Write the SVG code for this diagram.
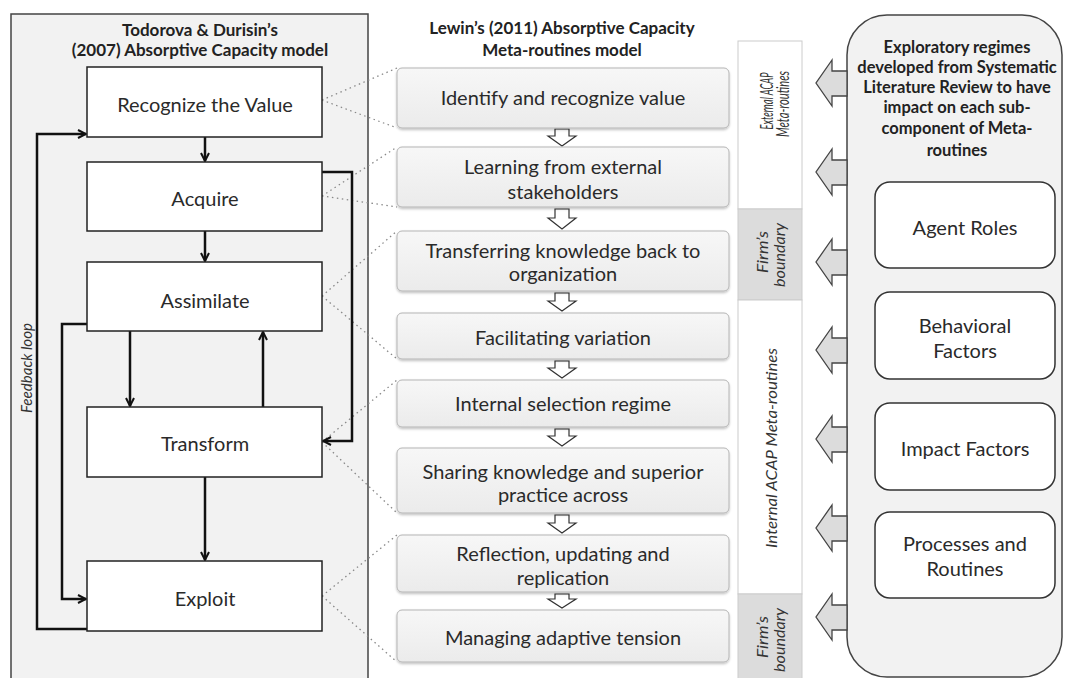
<svg xmlns="http://www.w3.org/2000/svg" width="1066" height="678" viewBox="0 0 1066 678">
  <style>
    .title { font-family: Lato, "Open Sans", "Liberation Sans", sans-serif; font-weight: bold; font-size: 17px; fill: #222; text-anchor: middle; }
    .rtitle { font-family: Lato, "Open Sans", "Liberation Sans", sans-serif; font-weight: bold; font-size: 16.5px; fill: #222; text-anchor: middle; }
    .lbl { font-family: Lato, "Open Sans", "Liberation Sans", sans-serif; font-size: 20px; fill: #2a2a2a; text-anchor: middle; }
    .side { font-family: Lato, "Open Sans", "Liberation Sans", sans-serif; font-style: italic; font-size: 15px; fill: #333; text-anchor: middle; }
    .stage { fill: #fff; stroke: #222; stroke-width: 1.5; }
    .meta { fill: url(#metaFill); stroke: #b5b5b5; stroke-width: 1; filter: url(#shadow); }
    .flow { fill: none; stroke: #111; stroke-width: 2.5; marker-end: url(#head); }
    .dot { fill: none; stroke: #888; stroke-width: 1.3; stroke-dasharray: 1.5 3.5; }
    .hollow { fill: #fff; stroke: #333; stroke-width: 1.2; }
    .push { fill: #dcdcdc; stroke: #444; stroke-width: 1.3; }
    .factor { fill: #fff; stroke: #333; stroke-width: 1.5; }
  </style>
  <defs>
    <linearGradient id="metaFill" x1="0" y1="0" x2="0" y2="1">
      <stop offset="0" stop-color="#f7f7f7"/>
      <stop offset="1" stop-color="#ebebeb"/>
    </linearGradient>
    <filter id="shadow" x="-5%" y="-10%" width="110%" height="130%">
      <feDropShadow dx="0" dy="1.5" stdDeviation="1" flood-color="#000" flood-opacity="0.25"/>
    </filter>
    <marker id="head" viewBox="0 0 10 10" refX="9" refY="5" markerWidth="4" markerHeight="4" orient="auto" markerUnits="strokeWidth">
      <path d="M1,1 L9,5 L1,9" fill="none" stroke="#111" stroke-width="2"/>
    </marker>
  </defs>

  <rect width="1066" height="678" fill="#fff"/>

  <!-- left panel: Todorova & Durisin model -->
  <g id="panel-todorova">
    <rect x="11" y="14" width="357" height="700" fill="#f2f2f2" stroke="#444" stroke-width="1.5"/>
    <text class="title" x="200" y="36">Todorova &amp; Durisin’s</text>
    <text class="title" x="200" y="56">(2007) Absorptive Capacity  model</text>
    <text class="side" transform="translate(32,368) rotate(-90)" textLength="90" lengthAdjust="spacingAndGlyphs">Feedback loop</text>
  </g>

  <!-- right panel: exploratory regimes -->
  <g id="panel-regimes">
    <rect x="847" y="15" width="215" height="662" rx="40" ry="40" fill="#f2f2f2" stroke="#444" stroke-width="1.5"/>
    <text class="rtitle" x="957" y="53">Exploratory regimes</text>
    <text class="rtitle" x="957" y="73">developed from Systematic</text>
    <text class="rtitle" x="957" y="93">Literature Review to have</text>
    <text class="rtitle" x="957" y="113">impact on each sub-</text>
    <text class="rtitle" x="957" y="134">component of Meta-</text>
    <text class="rtitle" x="957" y="156">routines</text>
  </g>

  <!-- boundary strip -->
  <g id="strip">
    <rect x="738" y="41" width="64" height="168" fill="#fff" stroke="#ccc" stroke-width="1"/>
    <rect x="738" y="209" width="64" height="91" fill="#dcdcdc" stroke="#ccc" stroke-width="1"/>
    <rect x="738" y="300" width="64" height="294" fill="#fff" stroke="#ccc" stroke-width="1"/>
    <rect x="738" y="594" width="64" height="100" fill="#dcdcdc" stroke="#ccc" stroke-width="1"/>
    <text class="side" style="font-size:17px" transform="translate(773,101) rotate(-90)" textLength="57" lengthAdjust="spacingAndGlyphs">External ACAP</text>
    <text class="side" style="font-size:17px" transform="translate(789,104) rotate(-90)" textLength="66" lengthAdjust="spacingAndGlyphs">Meta-routines</text>
    <text class="side" transform="translate(768,252) rotate(-90)" textLength="42" lengthAdjust="spacingAndGlyphs">Firm’s</text>
    <text class="side" transform="translate(785,255) rotate(-90)" textLength="64" lengthAdjust="spacingAndGlyphs">boundary</text>
    <text class="side" transform="translate(777,448) rotate(-90)" textLength="200" lengthAdjust="spacingAndGlyphs">Internal ACAP Meta-routines</text>
    <text class="side" transform="translate(768,637) rotate(-90)" textLength="42" lengthAdjust="spacingAndGlyphs">Firm’s</text>
    <text class="side" transform="translate(785,640) rotate(-90)" textLength="64" lengthAdjust="spacingAndGlyphs">boundary</text>
  </g>

  <!-- connectors -->
  <g id="connectors">
    <!-- dotted correspondences -->
    <path class="dot" d="M322,100 L397,68 M322,100 L397,128"/>
    <path class="dot" d="M322,196 L397,147 M322,196 L397,207"/>
    <path class="dot" d="M322,296 L397,231 M322,296 L397,359"/>
    <path class="dot" d="M322,442 L397,380 M322,442 L397,513"/>
    <path class="dot" d="M322,596 L397,535 M322,596 L397,662"/>

    <!-- stage flow -->
    <path class="flow" d="M205,137 L205,161"/>
    <path class="flow" d="M205,231 L205,261"/>
    <path class="flow" d="M130,331 L130,406"/>
    <path class="flow" d="M263,407 L263,332"/>
    <path class="flow" d="M205,477 L205,560"/>
    <path class="flow" d="M322,172 L352,172 L352,441 L323,441"/>
    <path class="flow" d="M87,324 L62,324 L62,599 L86,599"/>
    <path class="flow" d="M87,629 L37,629 L37,134 L86,134"/>

    <!-- hollow step arrows between meta-routines -->
    <path class="hollow" d="M555,129 L569,129 L569,136 L576,136 L562,146 L548,136 L555,136 Z"/>
    <path class="hollow" d="M555,209 L569,209 L569,218 L576,218 L562,229 L548,218 L555,218 Z"/>
    <path class="hollow" d="M555,293 L569,293 L569,301 L576,301 L562,311 L548,301 L555,301 Z"/>
    <path class="hollow" d="M555,361 L569,361 L569,368 L576,368 L562,378 L548,368 L555,368 Z"/>
    <path class="hollow" d="M555,429 L569,429 L569,436 L576,436 L562,446 L548,436 L555,436 Z"/>
    <path class="hollow" d="M555,515 L569,515 L569,523 L576,523 L562,533 L548,523 L555,523 Z"/>
    <path class="hollow" d="M555,594 L569,594 L569,599 L576,599 L562,608 L548,599 L555,599 Z"/>

    <!-- block arrows from regimes panel -->
    <path class="push" d="M847,71 L832,71 L832,60 L816,83 L832,106 L832,96 L847,96 Z"/>
    <path class="push" d="M847,160 L832,160 L832,149 L816,172 L832,195 L832,185 L847,185 Z"/>
    <path class="push" d="M847,250 L832,250 L832,239 L816,262 L832,285 L832,275 L847,275 Z"/>
    <path class="push" d="M847,338 L832,338 L832,327 L816,350 L832,373 L832,363 L847,363 Z"/>
    <path class="push" d="M847,427 L832,427 L832,416 L816,439 L832,462 L832,452 L847,452 Z"/>
    <path class="push" d="M847,516 L832,516 L832,505 L816,528 L832,551 L832,541 L847,541 Z"/>
    <path class="push" d="M847,605 L832,605 L832,594 L816,617 L832,640 L832,630 L847,630 Z"/>
  </g>

  <!-- stages -->
  <g id="stage-recognize">
    <rect class="stage" x="87" y="67" width="235" height="70"/>
    <text class="lbl" x="205" y="112">Recognize the Value</text>
  </g>
  <g id="stage-acquire">
    <rect class="stage" x="87" y="162" width="235" height="69"/>
    <text class="lbl" x="205" y="206">Acquire</text>
  </g>
  <g id="stage-assimilate">
    <rect class="stage" x="87" y="262" width="235" height="69"/>
    <text class="lbl" x="205" y="308">Assimilate</text>
  </g>
  <g id="stage-transform">
    <rect class="stage" x="87" y="407" width="235" height="70"/>
    <text class="lbl" x="205" y="451">Transform</text>
  </g>
  <g id="stage-exploit">
    <rect class="stage" x="87" y="561" width="235" height="70"/>
    <text class="lbl" x="205" y="606">Exploit</text>
  </g>

  <!-- Lewin meta-routines -->
  <g id="panel-lewin">
    <text class="title" x="562" y="34">Lewin’s (2011) Absorptive Capacity</text>
    <text class="title" x="562" y="56">Meta-routines model</text>
  </g>
  <g id="meta-identify">
    <rect class="meta" x="397" y="68" width="332" height="60" rx="5"/>
    <text class="lbl" x="563" y="105">Identify and recognize value</text>
  </g>
  <g id="meta-learning">
    <rect class="meta" x="397" y="147" width="332" height="60" rx="5"/>
    <text class="lbl" x="563" y="174">Learning from external</text>
    <text class="lbl" x="563" y="199">stakeholders</text>
  </g>
  <g id="meta-transferring">
    <rect class="meta" x="397" y="231" width="332" height="60" rx="5"/>
    <text class="lbl" x="563" y="258">Transferring knowledge back to</text>
    <text class="lbl" x="563" y="281">organization</text>
  </g>
  <g id="meta-variation">
    <rect class="meta" x="397" y="313" width="332" height="46" rx="5"/>
    <text class="lbl" x="563" y="345">Facilitating variation</text>
  </g>
  <g id="meta-selection">
    <rect class="meta" x="397" y="380" width="332" height="47" rx="5"/>
    <text class="lbl" x="563" y="411">Internal selection regime</text>
  </g>
  <g id="meta-sharing">
    <rect class="meta" x="397" y="448" width="332" height="65" rx="5"/>
    <text class="lbl" x="563" y="479">Sharing knowledge and superior</text>
    <text class="lbl" x="563" y="502">practice across</text>
  </g>
  <g id="meta-reflection">
    <rect class="meta" x="397" y="535" width="332" height="57" rx="5"/>
    <text class="lbl" x="563" y="561">Reflection, updating and</text>
    <text class="lbl" x="563" y="585">replication</text>
  </g>
  <g id="meta-tension">
    <rect class="meta" x="397" y="610" width="332" height="52" rx="5"/>
    <text class="lbl" x="563" y="645">Managing adaptive tension</text>
  </g>

  <!-- regime factors -->
  <g id="factor-agent">
    <rect class="factor" x="875" y="182" width="180" height="86" rx="15"/>
    <text class="lbl" x="965" y="235">Agent Roles</text>
  </g>
  <g id="factor-behavioral">
    <rect class="factor" x="875" y="292" width="180" height="87" rx="15"/>
    <text class="lbl" x="965" y="333">Behavioral</text>
    <text class="lbl" x="965" y="358">Factors</text>
  </g>
  <g id="factor-impact">
    <rect class="factor" x="875" y="403" width="180" height="87" rx="15"/>
    <text class="lbl" x="965" y="456">Impact Factors</text>
  </g>
  <g id="factor-processes">
    <rect class="factor" x="875" y="512" width="180" height="86" rx="15"/>
    <text class="lbl" x="965" y="551">Processes and</text>
    <text class="lbl" x="965" y="576">Routines</text>
  </g>
</svg>
